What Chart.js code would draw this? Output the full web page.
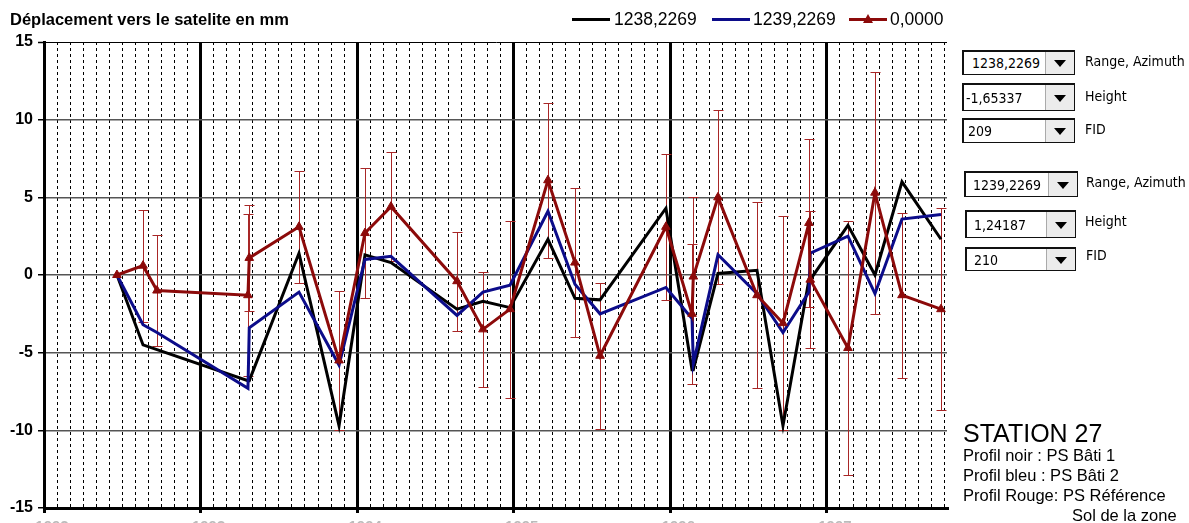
<!DOCTYPE html>
<html>
<head>
<meta charset="utf-8">
<script src="https://cdn.jsdelivr.net/npm/chart.js@4.4.1/dist/chart.umd.min.js"></script>
<style>
  body { margin: 0; background: #fff; width: 1189px; height: 523px; overflow: hidden; position: relative;
         font-family: "Liberation Sans", Arial, sans-serif; color: #000; }
  #chart { position: absolute; left: 0; top: 0; }
  .title { position: absolute; left: 10px; top: 11px; font-size: 16.5px; font-weight: bold; line-height: 1; white-space: nowrap; }
  .leg-line { position: absolute; height: 3px; }
  .leg-text { position: absolute; font-size: 17.5px; line-height: 1; white-space: nowrap; }
  .leg-tri { position: absolute; width: 0; height: 0; border-left: 5px solid transparent; border-right: 5px solid transparent; }
  .combo { position: absolute; box-sizing: border-box; border: 1px solid #111; border-top-width: 2px; border-left-width: 2px;
           background: #fff; font-family: "DejaVu Sans Condensed", "DejaVu Sans", sans-serif; font-stretch: condensed; font-size: 14px; }
  .combo span { position: absolute; top: 50%; transform: translateY(-50%); white-space: nowrap; color: #000; }
  .combo .btn { position: absolute; right: 0; top: 0; bottom: 0; width: 28px; background: #ececec; border-left: 1px solid #aaa; }
  .combo .btn::after { content: ""; position: absolute; left: 8px; top: 50%; margin-top: -3px; width: 0; height: 0;
           border-left: 6px solid transparent; border-right: 6px solid transparent; border-top: 7px solid #000; }
  .clabel { position: absolute; font-family: "DejaVu Sans Condensed", "DejaVu Sans", sans-serif; font-stretch: condensed;
            font-size: 14px; line-height: 1; white-space: nowrap; }
  .station { position: absolute; left: 963px; top: 421px; font-size: 25px; line-height: 1; white-space: nowrap; }
  .notes { position: absolute; left: 963px; top: 445px; font-size: 16.5px; line-height: 20px; white-space: nowrap; }
</style>
</head>
<body>
<canvas id="chart" width="1189" height="523"></canvas>
<div class="title">Déplacement vers le satelite en mm</div>
<div id="legend"></div>

<div class="combo" style="left:962px;top:50px;width:113px;height:25px"><span style="left:8px">1238,2269</span><div class="btn"></div></div>
<div class="clabel" style="left:1085px;top:54px">Range, Azimuth</div>
<div class="combo" style="left:962px;top:83px;width:113px;height:28px"><span style="left:2px">-1,65337</span><div class="btn"></div></div>
<div class="clabel" style="left:1085px;top:89px">Height</div>
<div class="combo" style="left:962px;top:118px;width:113px;height:25px"><span style="left:4px">209</span><div class="btn"></div></div>
<div class="clabel" style="left:1085px;top:122px">FID</div>

<div class="combo" style="left:964px;top:171px;width:114px;height:26px"><span style="left:7px">1239,2269</span><div class="btn"></div></div>
<div class="clabel" style="left:1086px;top:175px">Range, Azimuth</div>
<div class="combo" style="left:965px;top:210px;width:111px;height:28px"><span style="left:7px">1,24187</span><div class="btn"></div></div>
<div class="clabel" style="left:1085px;top:214px">Height</div>
<div class="combo" style="left:965px;top:247px;width:111px;height:24px"><span style="left:7px">210</span><div class="btn"></div></div>
<div class="clabel" style="left:1086px;top:248px">FID</div>

<div class="station">STATION 27</div>
<div class="notes">Profil noir : PS Bâti 1<br>Profil bleu : PS Bâti 2<br>Profil Rouge: PS Référence<br><span style="margin-left:109px">Sol de la zone</span></div>

<script>
// x = months counted from January 1992
const months = [5.59, 7.59, 8.66, 15.63, 15.73, 19.54, 22.61, 24.6, 26.59, 31.65, 33.64, 35.71, 38.62, 40.69,
  42.61, 47.66, 49.66, 49.76, 51.65, 54.64, 56.63, 58.62, 58.72, 61.61, 63.68, 65.75, 68.74];

const seriesNames = ["1238,2269", "1239,2269", "0,0000"];

const black = [0, -4.5, -4.8, -6.8, -6.8, 1.4, -9.7, 1.3, 0.8, -2.2, -1.7, -2.1, 2.3, -1.5,
  -1.6, 4.3, -6.1, -6.1, 0.1, 0.3, -9.7, -0.3, -0.3, 3.2, 0.0, 6.0, 2.3];

const blue = [0, -3.2, -3.7, -7.3, -3.4, -1.1, -5.8, 1.0, 1.2, -2.6, -1.1, -0.65, 4.1, -0.6,
  -2.5, -0.8, -2.8, -5.7, 1.3, -1.2, -3.7, -1.1, 1.4, 2.5, -1.2, 3.6, 3.9];

const red = [0, 0.6, -1.0, -1.3, 1.1, 3.1, -5.5, 2.7, 4.4, -0.4, -3.5, -2.2, 6.1, 0.8,
  -5.2, 3.1, -2.5, -0.1, 5.0, -1.3, -3.1, 3.35, -0.3, -4.7, 5.3, -1.3, -2.2];

// half length of the red error bars
const redErr = [0, 3.6, 3.6, 5.2, 3.4, 3.6, 4.5, 4.2, 3.5, 3.2, 3.7, 5.7, 5.0, 4.8,
  4.7, 4.7, 4.5, 5.1, 5.6, 6.0, 6.9, 5.4, 4.4, 8.2, 7.8, 5.3, 6.5];

const firstYear = 1992;
const yTicks = [-15, -10, -5, 0, 5, 10, 15];

const colors = ["#000000", "#0c0c8a", "#8c0a0a"];

// legend
const legendPos = [[572, 614], [712, 753], [849, 890]];
const legend = document.getElementById("legend");
seriesNames.forEach((name, i) => {
  const line = document.createElement("div");
  line.className = "leg-line";
  line.style.cssText = `left:${legendPos[i][0]}px;top:18px;width:38px;background:${colors[i]}`;
  legend.appendChild(line);
  const txt = document.createElement("div");
  txt.className = "leg-text";
  txt.style.cssText = `left:${legendPos[i][1]}px;top:11px`;
  txt.textContent = name;
  legend.appendChild(txt);
});
const tri = document.createElement("div");
tri.className = "leg-tri";
tri.style.cssText = `left:${legendPos[2][0] + 14}px;top:14px;border-bottom:9px solid ${colors[2]}`;
legend.appendChild(tri);

const toPoints = (vals) => vals.map((v, i) => ({ x: months[i], y: v }));
const isYear = (c) => c.tick && Math.abs(c.tick.value % 12) < 1e-6;

const errorBars = {
  id: "errorBars",
  beforeDatasetsDraw(chart) {
    const { ctx, scales: { x, y } } = chart;
    ctx.save();
    ctx.strokeStyle = "rgb(168,38,38)";
    ctx.lineWidth = 1;
    months.forEach((m, i) => {
      const e = redErr[i];
      if (!e) return;
      const px = Math.round(x.getPixelForValue(m)) + 0.5;
      const top = Math.round(y.getPixelForValue(red[i] + e)) + 0.5;
      const bot = Math.round(y.getPixelForValue(red[i] - e)) + 0.5;
      ctx.beginPath();
      ctx.moveTo(px, top); ctx.lineTo(px, bot);
      ctx.moveTo(px - 5, top); ctx.lineTo(px + 5, top);
      ctx.moveTo(px - 5, bot); ctx.lineTo(px + 5, bot);
      ctx.stroke();
    });
    ctx.restore();
  }
};

Chart.defaults.font.family = '"Liberation Sans", Arial, sans-serif';

new Chart(document.getElementById("chart"), {
  type: "line",
  data: {
    datasets: [
      { label: seriesNames[0], data: toPoints(black), borderColor: colors[0], borderWidth: 3, pointRadius: 0, order: 2 },
      { label: seriesNames[1], data: toPoints(blue), borderColor: colors[1], borderWidth: 3, pointRadius: 0, order: 1 },
      { label: seriesNames[2], data: toPoints(red), borderColor: colors[2], backgroundColor: colors[2], borderWidth: 3,
        pointStyle: "triangle", pointRadius: 5, pointBorderWidth: 1, order: 0 }
    ]
  },
  options: {
    responsive: false,
    animation: false,
    devicePixelRatio: 1,
    layout: { padding: { top: 42, right: 242, left: 0, bottom: 0 } },
    plugins: { legend: { display: false }, tooltip: { enabled: false } },
    elements: { line: { tension: 0 } },
    scales: {
      x: {
        type: "linear",
        min: 0,
        max: 69.2,
        afterFit: (s) => { s.height = 15; },
        ticks: {
          stepSize: 1,
          autoSkip: false,
          includeBounds: false,
          maxRotation: 0,
          labelOffset: 8,
          padding: 5,
          color: "#bbb",
          font: { size: 15, weight: "bold" },
          callback: (v) => (v % 12 === 0 ? String(firstYear + v / 12) : "")
        },
        grid: {
          color: "#000",
          lineWidth: (c) => (isYear(c) ? 3 : 1),
          tickColor: (c) => (isYear(c) ? "#000" : "rgba(0,0,0,0)"),
          tickWidth: 3,
          tickLength: 5
        },
        border: { display: true, color: "#000", width: 3, dash: (c) => (isYear(c) ? [] : [3, 3]) }
      },
      y: {
        min: -15,
        max: 15,
        afterFit: (s) => { s.width = 44; },
        afterBuildTicks: (s) => { s.ticks = yTicks.map((v) => ({ value: v })); },
        ticks: { color: "#000", padding: 5, font: { size: 16, weight: "bold" } },
        grid: {
          color: (c) => (c.tick && c.tick.value === 15 ? "#000" : c.tick && c.tick.value === -15 ? "rgba(0,0,0,0)" : "#555"),
          lineWidth: (c) => (c.tick && c.tick.value === 15 ? 1 : 1.5),
          tickColor: "#000",
          tickWidth: 1.5,
          tickLength: 6
        },
        border: { display: true, color: "#000", width: 3 }
      }
    }
  },
  plugins: [errorBars]
});
</script>
</body>
</html>
